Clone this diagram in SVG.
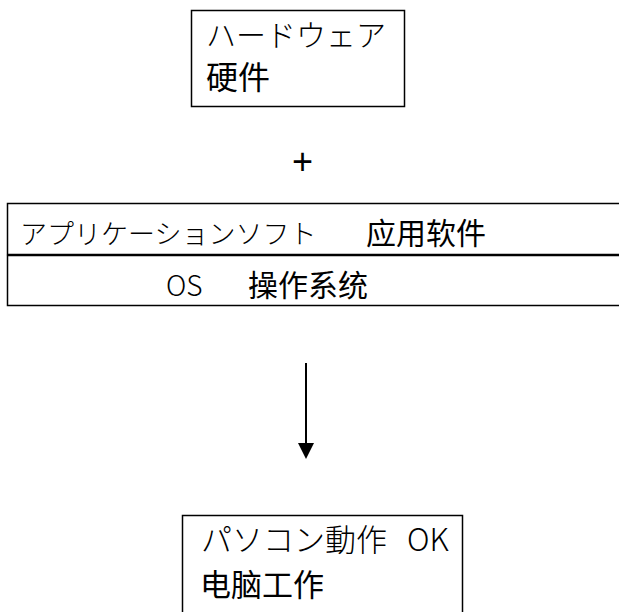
<svg xmlns="http://www.w3.org/2000/svg" width="619" height="612" viewBox="0 0 619 612">
<style>
.box{fill:#fff;stroke:#000;stroke-width:1.5}
.ja{font-family:"Noto Sans CJK JP","Noto Sans CJK SC",sans-serif;font-weight:300;font-size:30px;fill:#000}
.zh{font-family:"Noto Sans CJK SC","Noto Sans CJK JP",sans-serif;font-weight:400;font-size:32px;fill:#000}
.en{font-family:"Liberation Sans",sans-serif;font-size:36px;fill:#000}
</style>
<rect width="619" height="612" fill="#fff"/>
<g id="hardware">
<rect class="box" x="191.5" y="10.5" width="213" height="96"/>
<text class="ja" x="206" y="46">ハードウェア</text>
<text class="zh" x="206" y="89">硬件</text>
</g>
<g id="plus">
<text class="en" x="302.5" y="174" text-anchor="middle">+</text>
</g>
<g id="app">
<rect class="box" x="7.5" y="203.5" width="620" height="51"/>
<text class="ja" x="20" y="244" style="font-size:27px">アプリケーションソフト</text>
<text class="zh" x="366" y="244" style="font-size:30px">应用软件</text>
</g>
<g id="os">
<rect class="box" x="7.5" y="255.5" width="620" height="50"/>
<text class="ja" x="166" y="296" style="font-size:28px">OS</text>
<text class="zh" x="248" y="296" style="font-size:30px">操作系统</text>
</g>
<g id="pc">
<rect class="box" x="182.5" y="515.5" width="280" height="110"/>
<text class="ja" x="201" y="551" style="font-size:31px">パソコン動作<tspan x="407">OK</tspan></text>
<text class="zh" x="200" y="596" style="font-size:31px">电脑工作</text>
</g>
<g id="connectors">
<line x1="306" y1="363" x2="306" y2="444" stroke="#000" stroke-width="2"/>
<path d="M298,443 L314,443 L306,459 Z" fill="#000"/>
</g>
</svg>
